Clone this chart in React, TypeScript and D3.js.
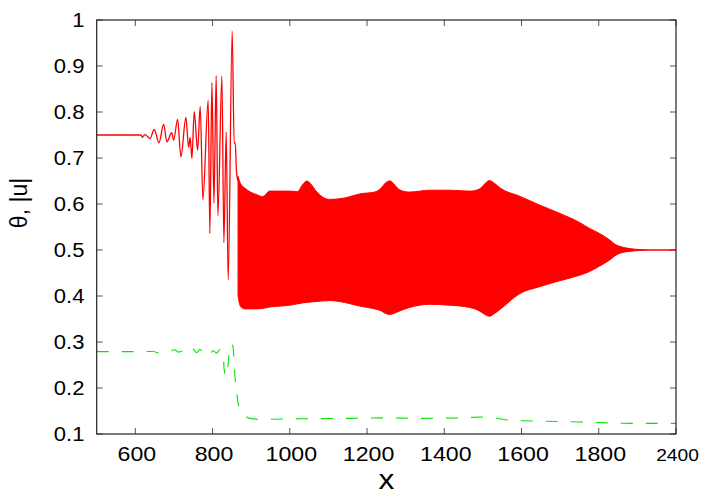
import React from "react";
import * as d3 from "d3";

// ---- data ----
const redOscX = [500, 615, 618, 625, 633.5, 637.9, 649, 661.2, 673.3, 681.9, 694, 699.2, 709.5, 718, 731, 738, 742, 746.5, 752.5, 761.3, 768, 775, 788.7, 793, 798.3, 803.5, 809.4, 813.8, 824.2, 829.3, 835.3, 840.5, 850.8, 856, 858.6, 862.2, 866];
const redOscY = [0.75, 0.75, 0.745, 0.751, 0.745, 0.742, 0.762, 0.733, 0.773, 0.735, 0.755, 0.739, 0.784, 0.703, 0.788, 0.723, 0.745, 0.699, 0.801, 0.717, 0.812, 0.609, 0.826, 0.536, 0.864, 0.602, 0.879, 0.574, 0.878, 0.516, 0.757, 0.435, 0.976, 0.732, 0.733, 0.667, 0.65];

const bandX = [866, 872, 883, 915, 930, 948, 1000, 1020, 1033, 1044, 1055, 1068, 1103, 1142, 1181, 1220, 1236, 1248, 1260, 1272, 1286, 1310, 1362, 1414, 1466, 1490, 1505, 1517, 1530, 1546, 1595, 1646, 1698, 1750, 1776, 1802, 1828, 1845, 1858, 1880, 1906, 1950, 2000];
const bandUpper = [0.66, 0.645, 0.635, 0.62, 0.616, 0.628, 0.628, 0.627, 0.642, 0.65, 0.643, 0.628, 0.61, 0.613, 0.622, 0.626, 0.634, 0.646, 0.65, 0.641, 0.63, 0.626, 0.63, 0.63, 0.628, 0.632, 0.644, 0.651, 0.645, 0.634, 0.617, 0.598, 0.58, 0.56, 0.547, 0.536, 0.522, 0.511, 0.507, 0.503, 0.501, 0.5, 0.5];
const bandLower = [0.4, 0.378, 0.372, 0.372, 0.373, 0.376, 0.38, 0.383, 0.385, 0.386, 0.387, 0.388, 0.39, 0.386, 0.378, 0.372, 0.368, 0.362, 0.36, 0.363, 0.368, 0.375, 0.382, 0.38, 0.375, 0.368, 0.36, 0.356, 0.362, 0.372, 0.405, 0.42, 0.433, 0.445, 0.453, 0.465, 0.478, 0.489, 0.494, 0.497, 0.499, 0.5, 0.5];

const greenX = [500, 625, 646, 656, 690, 702.6, 711, 723, 732.8, 741.4, 750, 758.7, 767.2, 775.8, 784.6, 793.1, 801.6, 810.4, 819, 827.5, 830, 835, 840, 844, 851, 855, 858, 864, 866, 871, 879, 897, 928, 1026, 1155, 1241, 1336, 1440, 1500, 1533, 1569, 1646, 1750, 1828, 1906, 2000];
const greenY = [0.279, 0.279, 0.28, 0.277, 0.28, 0.283, 0.278, 0.28, 0.283, 0.277, 0.284, 0.277, 0.284, 0.277, 0.283, 0.276, 0.281, 0.276, 0.283, 0.277, 0.24, 0.225, 0.25, 0.285, 0.296, 0.27, 0.225, 0.18, 0.167, 0.155, 0.145, 0.134, 0.132, 0.133, 0.134, 0.135, 0.134, 0.135, 0.137, 0.135, 0.13, 0.128, 0.126, 0.124, 0.123, 0.123];

const xTickValues = [600, 800, 1000, 1200, 1400, 1600, 1800, 2000];
const xTickLabels = ["600", "800", "1000", "1200", "1400", "1600", "1800", "2400"];
const yTickValues = [0.1, 0.2, 0.3, 0.4, 0.5, 0.6, 0.7, 0.8, 0.9, 1];
const yTickLabels = ["0.1", "0.2", "0.3", "0.4", "0.5", "0.6", "0.7", "0.8", "0.9", "1"];

const W = 712, H = 498;
const L = 96.7, R = 676, T = 20, B = 434;
const FONT = "'Liberation Sans', Arial, Helvetica, sans-serif";
const SX = 1.13;

export default function App() {
  const x = d3.scaleLinear().domain([500, 2000]).range([L, R]);
  const y = d3.scaleLinear().domain([0.1, 1]).range([B, T]);

  const osc = redOscX.map((v, i) => [v, redOscY[i]] as [number, number]);
  const band = bandX.map((v, i) => ({ x: v, hi: bandUpper[i], lo: bandLower[i] }));
  const green = greenX.map((v, i) => [v, greenY[i]] as [number, number]);

  const lineGen = d3
    .line<[number, number]>()
    .x((d) => x(d[0]))
    .y((d) => y(d[1]))
    .curve(d3.curveMonotoneX);

  const areaGen = d3
    .area<{ x: number; hi: number; lo: number }>()
    .x((d) => x(d.x))
    .y0((d) => y(d.lo))
    .y1((d) => y(d.hi))
    .curve(d3.curveMonotoneX);

  const tickLen = 6;
  const tickColor = "#555";

  return (
    <svg
      width={W}
      height={H}
      style={{ position: "absolute", left: 0, top: 0, background: "#fff" }}
      xmlns="http://www.w3.org/2000/svg"
    >
      <rect x={0} y={0} width={W} height={H} fill="#fff" />
      <defs>
        <clipPath id="plot">
          <rect x={L} y={T} width={R - L} height={B - T} />
        </clipPath>
      </defs>

      {/* ticks */}
      {xTickValues.map((v) => (
        <g key={"xt" + v}>
          <line x1={x(v)} x2={x(v)} y1={B} y2={B - tickLen} stroke={tickColor} strokeWidth={1} />
          <line x1={x(v)} x2={x(v)} y1={T} y2={T + tickLen} stroke={tickColor} strokeWidth={1} />
        </g>
      ))}
      {yTickValues.map((v) => (
        <g key={"yt" + v}>
          <line x1={L} x2={L + tickLen} y1={y(v)} y2={y(v)} stroke={tickColor} strokeWidth={1} />
          <line x1={R} x2={R - tickLen} y1={y(v)} y2={y(v)} stroke={tickColor} strokeWidth={1} />
        </g>
      ))}

      {/* data */}
      <g clipPath="url(#plot)">
        <path d={lineGen(green) || ""} fill="none" stroke="#00e600" strokeWidth={1.1} strokeDasharray="12 13" />
        <path d={areaGen(band) || ""} fill="#ff0000" stroke="#ff0000" strokeWidth={1} />
        <path d={lineGen(osc) || ""} fill="none" stroke="#ff0000" strokeWidth={1.3} />
      </g>

      {/* border */}
      <rect x={L} y={T} width={R - L} height={B - T} fill="none" stroke="#222" strokeWidth={1.2} />

      {/* tick labels */}
      {xTickValues.map((v, i) => {
        const last = i === xTickValues.length - 1;
        return (
          <text
            key={"xl" + v}
            transform={`translate(${x(v) + 1.5},${461}) scale(${SX},1)`}
            textAnchor="middle"
            fontFamily={FONT}
            fontSize={last ? 17 : 20.5}
            fill="#000"
          >
            {xTickLabels[i]}
          </text>
        );
      })}
      {yTickValues.map((v, i) => (
        <text
          key={"yl" + v}
          transform={`translate(${84.5},${y(v) + 7}) scale(${SX},1)`}
          textAnchor="end"
          fontFamily={FONT}
          fontSize={19.5}
          fill="#000"
        >
          {yTickLabels[i]}
        </text>
      ))}

      {/* axis titles */}
      <text
        transform={`translate(${(L + R) / 2},${489}) scale(${SX},1)`}
        textAnchor="middle"
        fontFamily={FONT}
        fontSize={28}
        fill="#000"
      >
        x
      </text>
      <text
        transform={`translate(27,203) rotate(-90)`}
        textAnchor="middle"
        fontFamily={FONT}
        fontSize={23}
        fill="#000"
      >
        θ, |u|
      </text>
    </svg>
  );
}
